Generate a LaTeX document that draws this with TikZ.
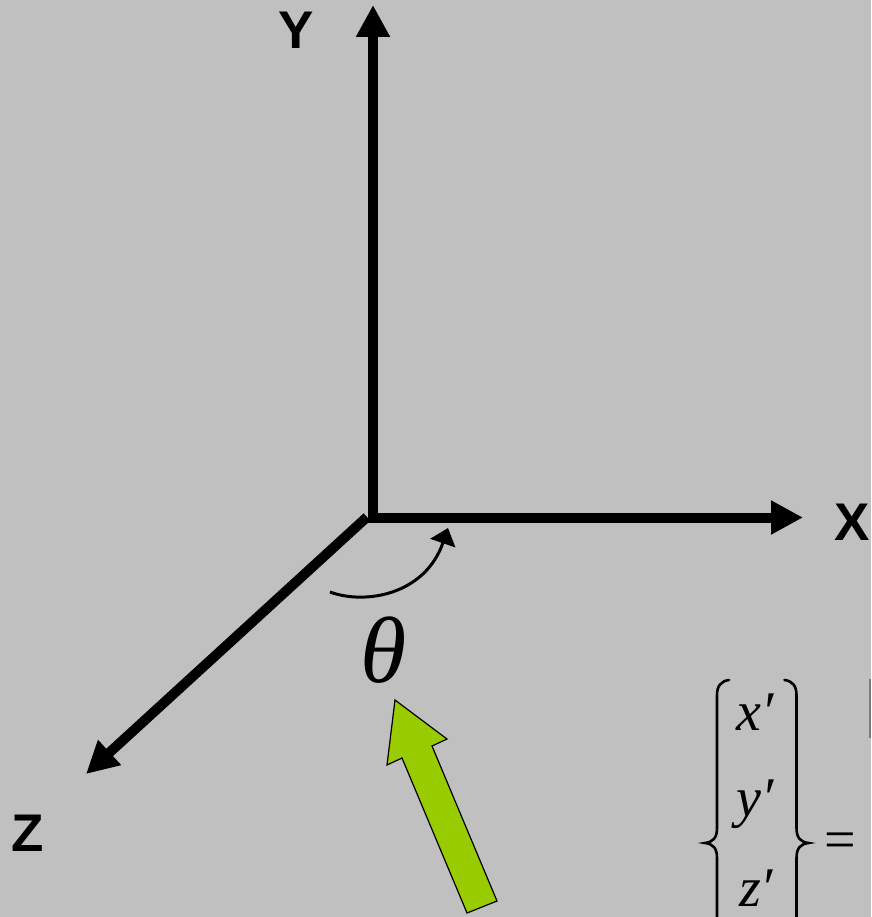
\documentclass[tikz,border=0pt]{standalone}
\usepackage{fontspec}
\setmainfont{Liberation Serif}
\newfontfamily\axisfont{Liberation Sans}
\newfontfamily\eqfont{Liberation Serif}
\usetikzlibrary{arrows.meta}
\definecolor{bgc}{HTML}{C0C0C0}
\definecolor{arrowgreen}{HTML}{99CC00}
\definecolor{edgegray}{HTML}{7A7A7A}
\begin{document}
\begin{tikzpicture}[x=1pt,y=-1pt,
  axis/.style={line width=10pt,-{Triangle[length=32pt,width=32pt]}},
  axislbl/.style={font=\axisfont\bfseries\fontsize{53}{53}\selectfont,inner sep=0pt,anchor=center},
  eqlbl/.style={font=\eqfont\itshape\fontsize{56}{56}\selectfont,inner sep=0pt,anchor=base west},
  bracestyle/.style={line width=2.6pt,line cap=round}]
\fill[bgc] (0,0) rectangle (871,917);
\clip (0,0) rectangle (871,917);
% axes
\coordinate (Ybot) at (373,522.5);
\coordinate (Ytip) at (373,5);
\coordinate (Xstart) at (368,517.5);
\coordinate (Xtip) at (803,517.5);
\coordinate (Zstart) at (367,517);
\coordinate (Ztip) at (86,774);
\draw[axis] (Ybot) -- (Ytip);
\draw[axis] (Xstart) -- (Xtip);
\draw[axis] (Zstart) -- (Ztip);
\node[axislbl] (ylbl) at (296.5,30) {Y};
\node[axislbl] (xlbl) at (852,522.5) {X};
\node[axislbl] (zlbl) at (28,833.5) {Z};
% rotation arrow
\coordinate (rotA) at (330,592);
\coordinate (rotB) at (448,528);
\draw[line width=3pt,-{Triangle[length=16pt,width=26pt]}] (rotA) .. controls (365,605) and (425,595) .. (rotB);
\node[font=\eqfont\itshape\fontsize{94}{94}\selectfont,inner sep=0pt,anchor=center] (theta) at (384,650.5) {θ};
% green arrow
\draw[fill=arrowgreen,line width=1.2pt,line join=miter]
  (395,700) -- (387,765) -- (402,758) -- (467,913) -- (497,901) -- (432,746) -- (447,739) -- cycle;
% braces
\draw[bracestyle] (729,680) .. controls (721,681) and (717,686) .. (717,695) -- (717,828)
  .. controls (717,838) and (713,842) .. (705,843) .. controls (713,844) and (717,848) .. (717,858) -- (717,930);
\draw[bracestyle] (784.5,680) .. controls (792.5,681) and (796.5,686) .. (796.5,695) -- (796.5,828)
  .. controls (796.5,838) and (800.5,842) .. (808.5,843) .. controls (800.5,844) and (796.5,848) .. (796.5,858) -- (796.5,930);
\node[eqlbl] (xp) at (736,730) {x′};
\node[eqlbl] (yp) at (736,816) {y′};
\node[eqlbl] (zp) at (739,906) {z′};
\node[font=\eqfont\fontsize{56}{56}\selectfont,inner sep=0pt,anchor=center] (eq) at (840,845.5) {=};
\draw[edgegray,line width=1.5pt] (870,679) -- (870,738);
\end{tikzpicture}
\end{document}
